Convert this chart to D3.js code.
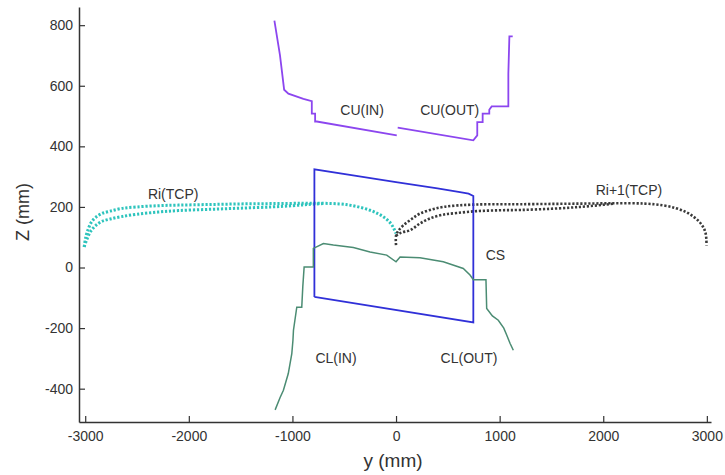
<!DOCTYPE html>
<html>
<head>
<meta charset="utf-8">
<script src="https://cdn.jsdelivr.net/npm/d3@7"></script>
<style>
  html, body { margin: 0; padding: 0; background: #fff; }
  svg { display: block; }
  text { font-family: "Liberation Sans", Arial, sans-serif; fill: #333; }
</style>
</head>
<body>
<svg id="chart" width="725" height="475"></svg>
<script>
// ---------- Data (y in mm, Z in mm) ----------
const xTicks = [-3000, -2000, -1000, 0, 1000, 2000, 3000];
const yTicks = [-400, -200, 0, 200, 400, 600, 800];

const riUpperY = [-3010,-2995,-2970,-2940,-2900,-2840,-2760,-2650,-2500,-2300,-2100,-1800,-1500,-1200,-900,-700,-550,-450,-350,-250,-170,-100,-50,-20,0];
const riUpperZ = [68,100,128,150,165,178,186,195,200,204,206,208,210,211,212,212,210,206,199,189,177,162,145,128,112];
const riLowerY = [-3010,-2985,-2950,-2900,-2840,-2760,-2650,-2500,-2300,-2100,-1800,-1500,-1200,-1000,-850,-700];
const riLowerZ = [68,92,118,138,152,160,168,176,183,188,192,196,200,204,208,211];

const ri1UpperY = [0,0,20,70,150,231,350,456,600,778,1000,1200,1500,1800,2100,2400,2580,2700,2800,2870,2930,2970,2990,2997];
const ri1UpperZ = [74,105,120,139,160,178,192,200,205,208,209,209,210,211,212,211,205,196,183,168,150,130,110,73];
const ri1LowerY = [0,50,135,230,328,450,585,778,1000,1200,1500,1775,2000,2100];
const ri1LowerZ = [105,115,123,145,162,174,180,186,189,190,194,200,207,211];

const csY = [-788,-788,-400,0,400,617,700,746,746,-788];
const csZ = [-97,324,303,282,261,249,244,236,-181,-97];

const clY = [-1167,-1120,-1087,-1040,-1006,-995,-990,-958,-910,-900,-887,-798,-798,-701,-605,-412,-251,-90,0,39,231,456,649,714,746,868,875,930,987,1040,1068,1100,1132];
const clZ = [-470,-430,-405,-350,-284,-240,-207,-131,-131,-64,2,2,63,79,74,66,51,41,19,35,32,19,-3,-25,-40,-40,-135,-160,-174,-200,-223,-250,-273];

const cuInY = [-1174,-1120,-1080,-1039,-894,-813,-813,-781,-781,-765,7];
const cuInZ = [815,700,587,574,557,549,508,508,482,482,436];
const cuOutY = [16,746,784,784,836,836,900,900,923,1084,1084,1094,1126];
const cuOutZ = [462,420,436,480,480,508,508,521,532,532,640,763,763];

const labelText = ["Ri(TCP)", "Ri+1(TCP)", "CU(IN)", "CU(OUT)", "CS", "CL(IN)", "CL(OUT)"];
const labelY    = [-2151, 2248, -328, 518, 959, -579, 704];
const labelZ    = [225, 238, 505, 505, 26, -316, -316];

// ---------- Chart ----------
const svg = d3.select("#chart");
const x = d3.scaleLinear().domain([-3060, 3040]).range([79, 711]);
const y = d3.scaleLinear().domain([-510, 860]).range([422, 7]);

const zip = (a, b) => a.map((v, i) => [v, b[i]]);
const line = d3.line().x(d => x(d[0])).y(d => y(d[1]));
const smooth = d3.line().x(d => x(d[0])).y(d => y(d[1])).curve(d3.curveCatmullRom);

// Axes
const xAxis = d3.axisBottom(x).tickValues(xTicks).tickSizeInner(-6).tickSizeOuter(0).tickPadding(9)
  .tickFormat(d => String(d));
const yAxis = d3.axisLeft(y).tickValues(yTicks).tickSizeInner(-6).tickSizeOuter(0).tickPadding(6)
  .tickFormat(d => String(d));

const gx = svg.append("g").attr("transform", "translate(0,422)").call(xAxis);
const gy = svg.append("g").attr("transform", "translate(79,0)").call(yAxis);
[gx, gy].forEach(g => {
  g.select(".domain").attr("stroke", "#333").attr("stroke-width", 1.5);
  g.selectAll(".tick line").attr("stroke", "#333").attr("stroke-width", 1.2);
  g.selectAll(".tick text").attr("fill", "#333").style("font-size", "14px")
    .style("font-family", "'Liberation Sans', Arial, sans-serif");
});

// Axis titles
svg.append("text").attr("x", 393).attr("y", 467).attr("text-anchor", "middle")
  .style("font-size", "19px").text("y (mm)");
svg.append("text").attr("transform", "translate(29,212) rotate(-90)").attr("text-anchor", "middle")
  .style("font-size", "18px").text("Z (mm)");

// TCP dotted curves
const dotted = (data, color, w) => svg.append("path").datum(data).attr("d", smooth)
  .attr("fill", "none").attr("stroke", color).attr("stroke-width", w)
  .attr("stroke-dasharray", "2.2,1.8");
dotted(zip(riUpperY, riUpperZ), "#2ec4bd", 3);
dotted(zip(riLowerY, riLowerZ), "#2ec4bd", 3);
dotted(zip(ri1UpperY, ri1UpperZ), "#3a3a3a", 2.6);
dotted(zip(ri1LowerY, ri1LowerZ), "#3a3a3a", 2.6);

// CS box
svg.append("path").datum(zip(csY, csZ)).attr("d", line)
  .attr("fill", "none").attr("stroke", "#3030d8").attr("stroke-width", 1.8);

// CL
svg.append("path").datum(zip(clY, clZ)).attr("d", line)
  .attr("fill", "none").attr("stroke", "#4b8c73").attr("stroke-width", 1.5);

// CU
[zip(cuInY, cuInZ), zip(cuOutY, cuOutZ)].forEach(d => {
  svg.append("path").datum(d).attr("d", line)
    .attr("fill", "none").attr("stroke", "#8c46ef").attr("stroke-width", 1.8);
});

// Labels
svg.selectAll(".lbl").data(labelText).enter().append("text").attr("class", "lbl")
  .attr("x", (d, i) => x(labelY[i])).attr("y", (d, i) => y(labelZ[i]))
  .attr("text-anchor", "middle").style("font-size", "14px").text(d => d);
</script>
</body>
</html>
